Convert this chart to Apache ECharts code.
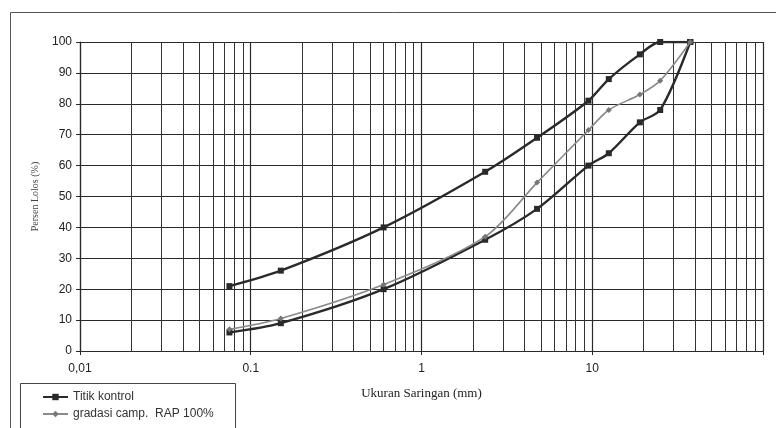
<!DOCTYPE html>
<html>
<head>
<meta charset="utf-8">
<script src="https://cdn.jsdelivr.net/npm/echarts@6/dist/echarts.min.js"></script>
<style>html,body{margin:0;padding:0;background:#fff}#c{width:776px;height:428px}</style>
</head>
<body>
<div id="c"></div>
<script>
// Sieve sizes (mm)
const sieveSizes = [0.075, 0.15, 0.6, 2.36, 4.75, 9.5, 12.5, 19, 25, 37.5];
// Control points (upper and lower envelope), % passing
const upperLimit = [21, 26, 40, 58, 69, 81, 88, 96, 100, 100];
const lowerLimit = [6, 9, 20, 36, 46, 60, 64, 74, 78, 100];
// Mix gradation RAP 100%
const gradasiRAP = [7, 10.5, 21.5, 37, 54.5, 71.5, 78, 83, 87.5, 100];
// Tick labels on the log axis
const xTickValues = [0.01, 0.1, 1, 10, 100];
const xTickLabels = ['0,01', '0.1', '1', '10', ''];
// Minor log gridlines
const minorGrid = [0.02,0.03,0.04,0.05,0.06,0.07,0.08,0.09,
                   0.2,0.3,0.4,0.5,0.6,0.7,0.8,0.9,
                   2,3,4,5,6,7,8,9,
                   20,30,40,50,60,70,80,90];

const pair = (xs, ys) => xs.map((x, i) => [x, ys[i]]);

const chart = echarts.init(document.getElementById('c'));
const dark = '#2a2a2a';
chart.setOption({
  backgroundColor: '#fff',
  animation: false,
  graphic: [{
    type: 'rect', left: 8, top: 10, z: -1,
    shape: { width: 900, height: 900 },
    style: { fill: 'none', stroke: '#555', lineWidth: 1 }
  }, {
    type: 'rect', left: 20, top: 383, z: -1,
    shape: { width: 215, height: 80 },
    style: { fill: '#fff', stroke: '#444', lineWidth: 1 }
  }],
  grid: { left: 80, right: 13, top: 42, bottom: 77 },
  legend: {
    orient: 'vertical', left: 22, top: 391,
    padding: [0, 0, 0, 20],
    itemGap: 5, itemWidth: 25, itemHeight: 8,
    textStyle: { fontFamily: 'Liberation Sans', fontSize: 12, color: '#333' },
    data: ['Titik kontrol', 'gradasi camp.  RAP 100%']
  },
  xAxis: {
    type: 'log', logBase: 10, min: 0.01, max: 100,
    name: 'Ukuran Saringan (mm)', nameLocation: 'middle', nameGap: 36,
    nameTextStyle: { fontFamily: 'Liberation Serif', fontSize: 13, color: '#222' },
    axisLine: { lineStyle: { color: dark, width: 1.2 } },
    axisTick: { show: true, length: 4, lineStyle: { color: dark } },
    axisLabel: {
      fontFamily: 'Liberation Sans', fontSize: 12, color: '#222', margin: 12,
      formatter: v => {
        const i = xTickValues.findIndex(t => Math.abs(Math.log10(t) - Math.log10(v)) < 1e-6);
        return i >= 0 ? xTickLabels[i] : '';
      }
    },
    splitLine: { show: true, lineStyle: { color: dark, width: 1.2 } }
  },
  yAxis: {
    type: 'value', min: 0, max: 100, interval: 10,
    name: 'Persen Lolos (%)', nameLocation: 'middle', nameGap: 40,
    nameTextStyle: { fontFamily: 'Liberation Serif', fontSize: 10, color: '#444' },
    axisLine: { show: true, lineStyle: { color: dark, width: 1.2 } },
    axisTick: { show: true, length: 4, lineStyle: { color: dark } },
    axisLabel: { fontFamily: 'Liberation Sans', fontSize: 12, color: '#222', margin: 8 },
    splitLine: { show: true, lineStyle: { color: dark, width: 1.2 } }
  },
  series: [
    {
      name: 'grid-minor', type: 'line', data: [], silent: true,
      markLine: {
        silent: true, symbol: 'none', label: { show: false },
        lineStyle: { color: '#333', width: 1, type: 'solid' },
        data: minorGrid.map(v => ({ xAxis: v }))
      }
    },
    {
      name: 'Titik kontrol', type: 'line', smooth: 0.3,
      data: pair(sieveSizes, upperLimit),
      symbol: 'rect', symbolSize: 6,
      lineStyle: { color: dark, width: 2.4 },
      itemStyle: { color: dark }, z: 5
    },
    {
      name: 'Titik kontrol', type: 'line', smooth: 0.3,
      data: pair(sieveSizes, lowerLimit),
      symbol: 'rect', symbolSize: 6,
      lineStyle: { color: dark, width: 2.4 },
      itemStyle: { color: dark }, z: 5
    },
    {
      name: 'gradasi camp.  RAP 100%', type: 'line', smooth: 0.3,
      data: pair(sieveSizes, gradasiRAP),
      symbol: 'diamond', symbolSize: 6,
      lineStyle: { color: '#8a8a8a', width: 1.6 },
      itemStyle: { color: '#777' }, z: 6
    }
  ]
});
</script>
</body>
</html>
